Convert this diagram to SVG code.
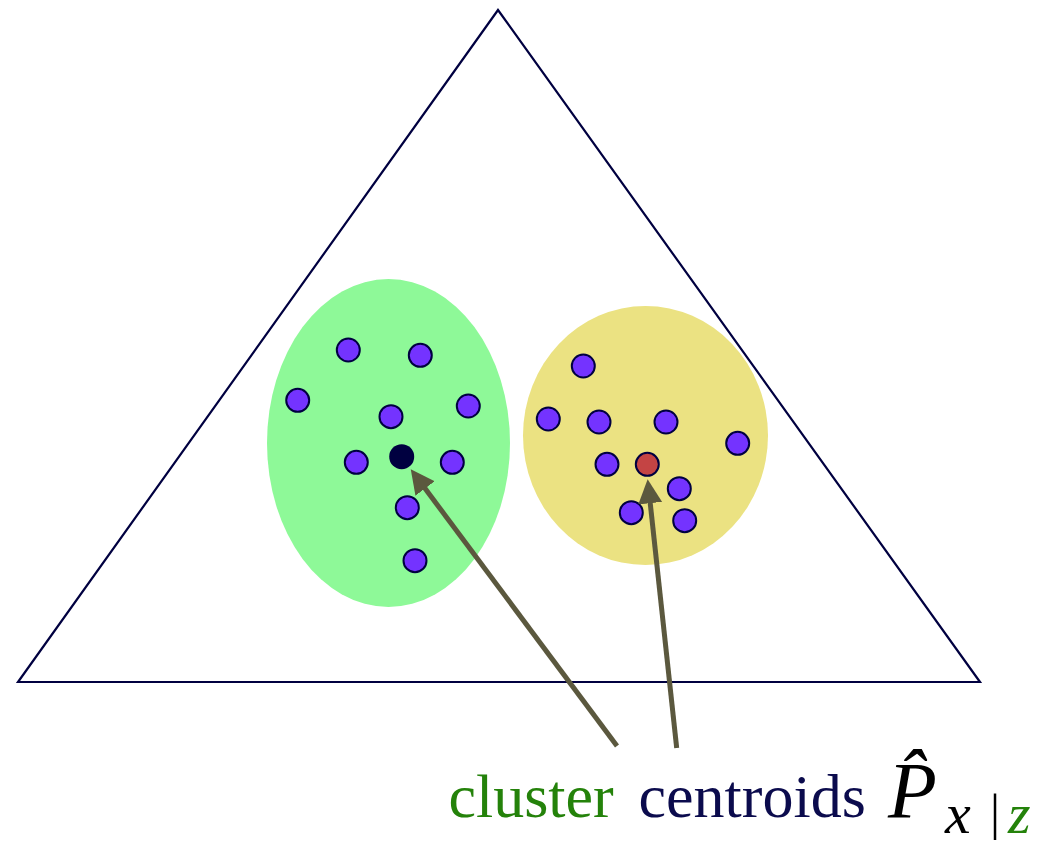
<svg xmlns="http://www.w3.org/2000/svg" width="1039" height="850" viewBox="0 0 1039 850">
<style>
.dot{fill:#7433ff;stroke:#000040;stroke-width:2}
.arr{stroke:#5b583e;stroke-width:5;fill:none}
.t{font-family:"Liberation Serif","Times New Roman",serif}
</style>
<defs>
<marker id="ah" markerUnits="userSpaceOnUse" markerWidth="26" markerHeight="26" refX="4" refY="12" orient="auto">
<path d="M0,0 L24,12 L0,24 z" fill="#5b583e"/>
</marker>
</defs>
<rect width="1039" height="850" fill="#ffffff"/>
<g id="simplex">
<polygon points="498,10 18,682 980,682" fill="none" stroke="#000040" stroke-width="2.2"/>
</g>
<g id="cluster-green">
<ellipse cx="388.5" cy="443" rx="121.5" ry="164" fill="#8ef998"/>
<circle class="dot" cx="348.3" cy="350" r="11.5"/>
<circle class="dot" cx="420.3" cy="355.3" r="11.5"/>
<circle class="dot" cx="297.7" cy="400.3" r="11.5"/>
<circle class="dot" cx="468.3" cy="406" r="11.5"/>
<circle class="dot" cx="391" cy="416.7" r="11.5"/>
<circle class="dot" cx="356.3" cy="462.3" r="11.5"/>
<circle class="dot" cx="452.3" cy="462.3" r="11.5"/>
<circle class="dot" cx="407.3" cy="507.7" r="11.5"/>
<circle class="dot" cx="415" cy="560.7" r="11.5"/>
<circle cx="401.7" cy="456.7" r="12.5" fill="#000040"/>
</g>
<g id="cluster-yellow">
<ellipse cx="645.5" cy="435.5" rx="122.5" ry="129.5" fill="#ebe282"/>
<circle class="dot" cx="583.3" cy="366" r="11.5"/>
<circle class="dot" cx="548.3" cy="419" r="11.5"/>
<circle class="dot" cx="599" cy="422" r="11.5"/>
<circle class="dot" cx="666" cy="422" r="11.5"/>
<circle class="dot" cx="737.7" cy="443.3" r="11.5"/>
<circle class="dot" cx="607" cy="464.3" r="11.5"/>
<circle class="dot" cx="679.3" cy="488.7" r="11.5"/>
<circle class="dot" cx="631.3" cy="512.7" r="11.5"/>
<circle class="dot" cx="684.7" cy="520.7" r="11.5"/>
<circle cx="647.3" cy="464.3" r="11.5" fill="#c44444" stroke="#000040" stroke-width="2"/>
</g>
<g id="connectors">
<line class="arr" x1="617" y1="746" x2="422.7" y2="485.3" marker-end="url(#ah)"/>
<line class="arr" x1="676.7" y1="748" x2="649.8" y2="499.2" marker-end="url(#ah)"/>
</g>
<g id="label">
<text class="t" x="448.5" y="817" font-size="62" fill="#24820a">cluster</text>
<text class="t" x="638.5" y="817" font-size="62" fill="#0b0b4d">centroids</text>
<text class="t" x="888" y="818" font-size="80" font-style="italic" fill="#000000">P̂</text>
<text class="t" x="945" y="833" font-size="58" font-style="italic" fill="#000000">x</text>
<text class="t" x="990" y="829" font-size="50" fill="#000000">|</text>
<text class="t" x="1008" y="833" font-size="58" font-style="italic" fill="#24820a">z</text>
</g>
</svg>
